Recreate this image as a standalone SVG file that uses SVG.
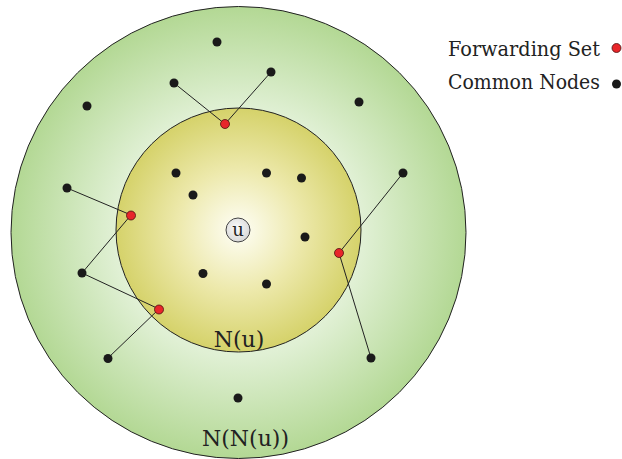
<svg xmlns="http://www.w3.org/2000/svg" width="622" height="459" viewBox="0 0 622 459">
<defs>
<radialGradient id="gOuter" cx="0.5" cy="0.5" r="0.5">
<stop offset="0" stop-color="#f4faef"/>
<stop offset="0.55" stop-color="#e0f0d4"/>
<stop offset="1" stop-color="#b3d894"/>
</radialGradient>
<radialGradient id="gInner" cx="0.5" cy="0.5" r="0.5">
<stop offset="0" stop-color="#fefef6"/>
<stop offset="0.5" stop-color="#ede9ac"/>
<stop offset="1" stop-color="#d5d26a"/>
</radialGradient>
<radialGradient id="gU" cx="0.45" cy="0.4" r="0.6">
<stop offset="0" stop-color="#fafafa"/>
<stop offset="1" stop-color="#d8d8d8"/>
</radialGradient>
<style>
.edge{stroke:#222;stroke-width:1;fill:none}
.n{fill:#1a1a1a}
.f{fill:#e8262a;stroke:#4a1010;stroke-width:0.8}
.lbl{font-family:"DejaVu Serif","Liberation Serif",serif;fill:#222}
</style>
</defs>
<g id="regions">
<ellipse id="NNu" cx="238.5" cy="232.5" rx="227.5" ry="226" fill="url(#gOuter)" stroke="#222" stroke-width="1"/>
<ellipse id="Nu" cx="238.5" cy="230" rx="122.5" ry="122" fill="url(#gInner)" stroke="#222" stroke-width="1"/>
</g>
<g id="connectors">
<line class="edge" x1="174" y1="83" x2="225" y2="124"/>
<line class="edge" x1="271" y1="72" x2="225" y2="124"/>
<line class="edge" x1="67" y1="188" x2="131" y2="215"/>
<line class="edge" x1="131" y1="215" x2="82" y2="273"/>
<line class="edge" x1="82" y1="273" x2="159" y2="309"/>
<line class="edge" x1="159" y1="309" x2="108" y2="358"/>
<line class="edge" x1="403" y1="173" x2="339" y2="253"/>
<line class="edge" x1="339" y1="253" x2="371" y2="358"/>
</g>
<g id="u"><circle cx="238" cy="230" r="12" fill="url(#gU)" stroke="#444" stroke-width="1"/><text class="lbl" x="238" y="236" font-size="18" text-anchor="middle">u</text></g>
<g id="common">
<circle id="c1" class="n" cx="217" cy="42" r="4.5"/>
<circle id="c2" class="n" cx="174" cy="83" r="4.5"/>
<circle id="c3" class="n" cx="271" cy="72" r="4.5"/>
<circle id="c4" class="n" cx="87" cy="106" r="4.5"/>
<circle id="c5" class="n" cx="359" cy="102" r="4.5"/>
<circle id="c6" class="n" cx="176" cy="173" r="4.5"/>
<circle id="c7" class="n" cx="266.5" cy="173" r="4.5"/>
<circle id="c8" class="n" cx="301.5" cy="178" r="4.5"/>
<circle id="c9" class="n" cx="193" cy="195" r="4.5"/>
<circle id="c10" class="n" cx="67" cy="188" r="4.5"/>
<circle id="c11" class="n" cx="403" cy="173" r="4.5"/>
<circle id="c12" class="n" cx="305" cy="237" r="4.5"/>
<circle id="c13" class="n" cx="82" cy="273" r="4.5"/>
<circle id="c14" class="n" cx="203" cy="273.5" r="4.5"/>
<circle id="c15" class="n" cx="266.5" cy="284" r="4.5"/>
<circle id="c16" class="n" cx="108" cy="358.5" r="4.5"/>
<circle id="c17" class="n" cx="371" cy="358" r="4.5"/>
<circle id="c18" class="n" cx="238" cy="398" r="4.5"/>
</g>
<g id="forwarding">
<circle id="f1" class="f" cx="225" cy="124" r="4.5"/>
<circle id="f2" class="f" cx="131" cy="215.5" r="4.5"/>
<circle id="f3" class="f" cx="339" cy="253" r="4.5"/>
<circle id="f4" class="f" cx="159" cy="309.5" r="4.5"/>
</g>
<g id="labels">
<text class="lbl" x="239" y="346.5" font-size="22" text-anchor="middle">N(u)</text>
<text class="lbl" x="245.5" y="446" font-size="22" text-anchor="middle">N(N(u))</text>
</g>
<g id="legend">
<text class="lbl" x="448" y="56" font-size="19.5" textLength="152" lengthAdjust="spacingAndGlyphs">Forwarding Set</text>
<circle class="f" cx="616.5" cy="48" r="4.5"/>
<text class="lbl" x="448" y="89" font-size="19.5" textLength="152" lengthAdjust="spacingAndGlyphs">Common Nodes</text>
<circle class="n" cx="616.5" cy="84" r="4.5"/>
</g>
</svg>
